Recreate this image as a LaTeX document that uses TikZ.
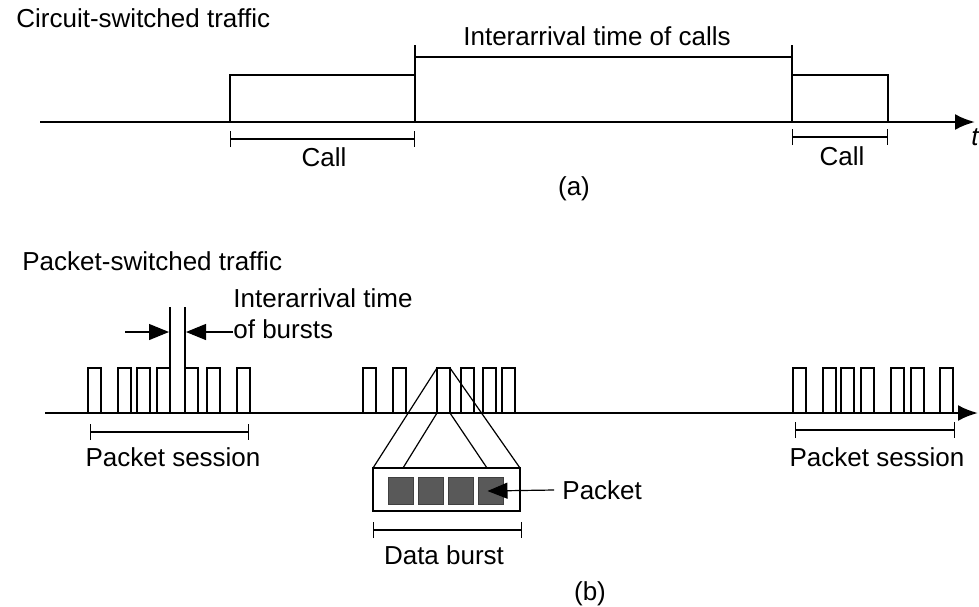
\documentclass[tikz,border=0pt]{standalone}
\usepackage{fontspec}
\setmainfont{Liberation Sans}
\usetikzlibrary{arrows.meta}

\begin{document}
\begin{tikzpicture}[x=0.5pt, y=-0.5pt,
    lbl/.style={font=\fontsize{13}{15.6}\selectfont, inner sep=0pt},
    thinl/.style={line width=0.6pt},
    timeaxis/.style={line width=1.3pt, -{Latex[length=10pt, width=8pt]}},
    span/.style={thinl, {Bar[width=8pt]}-{Bar[width=8pt]}},
    pointer/.style={thinl, -{Triangle[length=10pt, width=8pt]}},
    pulse/.style={line width=0.65pt},
    pkt/.style={draw=black!75, fill=black!65, line width=0.5pt,
      minimum width=12.5pt, minimum height=13.5pt, inner sep=0pt}]
  \useasboundingbox (0,0) rectangle (979,606);

  % (a) circuit-switched traffic
  \node[lbl, anchor=west] (ctitle) at (16,18) {Circuit-switched traffic};
  \coordinate (a0) at (40,122);
  \coordinate (a1) at (975,122);
  \draw[timeaxis] (a0) -- (a1);
  \node[lbl, anchor=north east] (tlbl) at (979,128) {\itshape t};

  \draw[thinl] (230,122) |- (415,75);
  \draw[thinl] (415,122) -- (415,45);
  \draw[thinl] (415,57) -- (792,57);
  \draw[thinl] (792,45) -- (792,122);
  \draw[thinl] (792,75) -| (888,122);
  \node[lbl, anchor=base] (iacalls) at (597,45) {Interarrival time of calls};

  \coordinate (c1a) at (230,139);
  \coordinate (c1b) at (415,139);
  \draw[span] (c1a) -- (c1b);
  \node[lbl, anchor=base] (call1) at (324,166) {Call};
  \coordinate (c2a) at (792,137);
  \coordinate (c2b) at (888,137);
  \draw[span] (c2a) -- (c2b);
  \node[lbl, anchor=base] (call2) at (842,165) {Call};
  \node[lbl] (capa) at (574,189) {(a)};

  % (b) packet-switched traffic
  \node[lbl, anchor=west] (ptitle) at (22,261) {Packet-switched traffic};
  \coordinate (b0) at (45,413);
  \coordinate (b1) at (978,413);
  \draw[timeaxis] (b0) -- (b1);
  \foreach \x in {88,118,137,157,185,207,237,363,393,437,461,483,502,793,823,841,861,891,911,940}
    \draw[pulse] (\x,413) |- (\x+13,368) -- (\x+13,413);

  % gap between two bursts
  \draw[thinl] (170,368) -- (170,307);
  \draw[thinl] (185,368) -- (185,307);
  \node[lbl, anchor=west] (ia1) at (233,298) {Interarrival time};
  \node[lbl, anchor=west] (ia2) at (233,329) {of bursts};
  \coordinate (gl) at (125,332);
  \draw[pointer] (gl) -- (169,332);
  \draw[pointer] (ia2.west |- 0,332) -- (186,332);

  \coordinate (s1a) at (90,432);
  \coordinate (s1b) at (249,432);
  \draw[span] (s1a) -- (s1b);
  \node[lbl] (sess1) at (173,457) {Packet session};
  \coordinate (s2a) at (795,430);
  \coordinate (s2b) at (955,430);
  \draw[span] (s2a) -- (s2b);
  \node[lbl] (sess2) at (877,457) {Packet session};

  % one burst blown up
  \coordinate (pt1) at (437,368);
  \coordinate (pt2) at (450,368);
  \coordinate (pb1) at (437,413);
  \coordinate (pb2) at (450,413);
  \coordinate (bx1) at (373,468);
  \coordinate (bx2) at (520,511);
  \draw[thinl] (bx1) rectangle (bx2);
  \draw[thinl] (pt1) -- (bx1);
  \draw[thinl] (pt2) -- (bx1 -| bx2);
  \draw[thinl] (pb1) -- (403,468);
  \draw[thinl] (pb2) -- (487,468);
  \foreach \x [count=\i] in {388,418,448,478}
    \node[pkt] (p\i) at (\x+12.5,491) {};
  \node[lbl, anchor=west] (pk) at (562,490) {Packet};
  \draw[pointer] ([xshift=-4pt]pk.west) -- ([xshift=-1.5pt]p4.center);

  \coordinate (d1) at (373,530);
  \coordinate (d2) at (522,530);
  \draw[span] (d1) -- (d2);
  \node[lbl] (dburst) at (444,555) {Data burst};
  \node[lbl] (capb) at (590,594) {(b)};
\end{tikzpicture}
\end{document}
